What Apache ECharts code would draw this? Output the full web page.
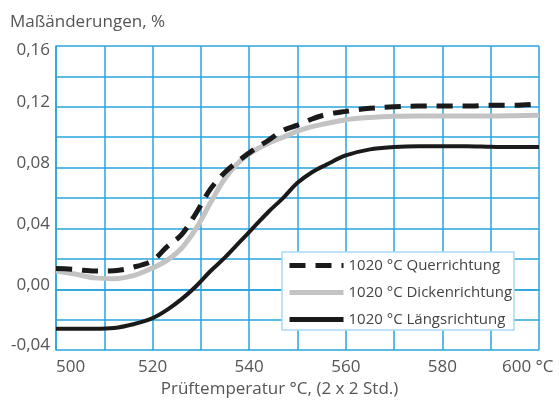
<!DOCTYPE html>
<html>
<head>
<meta charset="utf-8">
<script src="https://cdn.jsdelivr.net/npm/echarts@6/dist/echarts.min.js"></script>
<style>
  html, body { margin: 0; padding: 0; background: #fff; }
  #chart { width: 559px; height: 403px; }
</style>
</head>
<body>
<div id="chart"></div>
<script>
// Prüftemperatur in °C
const temps = [500, 504, 508, 512, 516, 520, 523, 526, 529, 532, 535, 538, 541, 544, 547, 550, 553, 556, 560, 565, 570, 575, 580, 585, 590, 595, 600];

// Maßänderungen in % je Richtung
const querrichtung = [0.0136, 0.013, 0.012, 0.0122, 0.0145, 0.019, 0.028, 0.036, 0.050, 0.066, 0.077, 0.085, 0.092, 0.098, 0.1045, 0.108, 0.112, 0.115, 0.117, 0.119, 0.120, 0.1205, 0.1205, 0.1205, 0.121, 0.121, 0.122];
const dickenrichtung = [0.012, 0.010, 0.0075, 0.007, 0.009, 0.014, 0.019, 0.027, 0.040, 0.057, 0.073, 0.084, 0.091, 0.096, 0.100, 0.104, 0.107, 0.109, 0.1115, 0.113, 0.1138, 0.114, 0.114, 0.114, 0.114, 0.1142, 0.1145];
const laengsrichtung = [-0.026, -0.026, -0.026, -0.0255, -0.023, -0.019, -0.0135, -0.0065, 0.002, 0.012, 0.021, 0.031, 0.041, 0.051, 0.060, 0.070, 0.077, 0.082, 0.088, 0.092, 0.0935, 0.094, 0.094, 0.094, 0.0937, 0.0935, 0.0935];

const seriesNames = ['1020 °C Querrichtung', '1020 °C Dickenrichtung', '1020 °C Längsrichtung'];

const textColor = '#555';
const gridBlue = '#27a4dd';
const fontFamily = '"Open Sans", "Liberation Sans", Arial, sans-serif';

const pairs = (ys) => temps.map((t, i) => [t, ys[i]]);

const chart = echarts.init(document.getElementById('chart'), null, { renderer: 'canvas' });

chart.setOption({
  backgroundColor: '#fff',
  animation: false,
  textStyle: { fontFamily: fontFamily },
  title: {
    text: 'Maßänderungen, %',
    left: 5,
    top: 9,
    textStyle: { fontSize: 17, fontWeight: 'normal', color: textColor, fontFamily: fontFamily }
  },
  grid: { left: 56, top: 46, right: 20, bottom: 51, containLabel: false },
  legend: {
    orient: 'vertical',
    left: 282,
    top: 252,
    data: seriesNames,
    itemWidth: 54,
    itemHeight: 14,
    itemGap: 12,
    padding: [6, 2, 3, 5],
    backgroundColor: '#fff',
    borderColor: '#a9daf3',
    borderWidth: 1.5,
    itemStyle: { opacity: 0 },
    lineStyle: { width: 5 },
    textStyle: { fontSize: 15, color: '#444', fontFamily: fontFamily }
  },
  xAxis: {
    type: 'value',
    min: 500,
    max: 600,
    interval: 10,
    name: 'Prüftemperatur °C, (2 x 2 Std.)',
    nameLocation: 'middle',
    nameGap: 22,
    nameTextStyle: { fontSize: 17, color: textColor, padding: [0, 36, 0, 0], fontFamily: fontFamily },
    axisLine: { show: true, lineStyle: { color: gridBlue, width: 1.5 } },
    axisTick: { show: false },
    splitLine: { show: true, lineStyle: { color: gridBlue, width: 1.5 } },
    axisLabel: {
      margin: 9,
      fontSize: 17,
      color: textColor,
      alignMinLabel: 'left',
      formatter: (v) => {
        if (v === 600) return '{last|600 °C}';
        return v % 20 === 0 ? String(v) : '';
      },
      rich: {
        last: { width: 74, align: 'left', fontSize: 17, color: textColor, fontFamily: fontFamily }
      }
    }
  },
  yAxis: {
    type: 'value',
    min: -0.04,
    max: 0.16,
    interval: 0.02,
    axisLine: { show: true, lineStyle: { color: gridBlue, width: 1.5 } },
    axisTick: { show: false },
    splitLine: { show: true, lineStyle: { color: gridBlue, width: 1.5 } },
    axisLabel: {
      margin: 6,
      fontSize: 17,
      lineHeight: 9,
      verticalAlign: 'bottom',
      verticalAlignMaxLabel: 'top',
      color: textColor,
      formatter: (v) => {
        const k = Math.round(v * 100);
        if (k % 4 !== 0) return '';
        return (v < 0 ? '-' : '') + Math.abs(v).toFixed(2).replace('.', ',');
      }
    }
  },
  series: [
    {
      name: seriesNames[1],
      type: 'line',
      data: pairs(dickenrichtung),
      smooth: 0.35,
      symbol: 'none',
      lineStyle: { color: '#c3c3c3', width: 5 },
      itemStyle: { color: '#c3c3c3' }
    },
    {
      name: seriesNames[0],
      type: 'line',
      data: pairs(querrichtung),
      smooth: 0.35,
      symbol: 'none',
      lineStyle: { color: '#1a1a1a', width: 5, type: [16, 10] },
      itemStyle: { color: '#1a1a1a' }
    },
    {
      name: seriesNames[2],
      type: 'line',
      data: pairs(laengsrichtung),
      smooth: 0.35,
      symbol: 'none',
      lineStyle: { color: '#1a1a1a', width: 4 },
      itemStyle: { color: '#1a1a1a' }
    }
  ]
});
</script>
</body>
</html>
